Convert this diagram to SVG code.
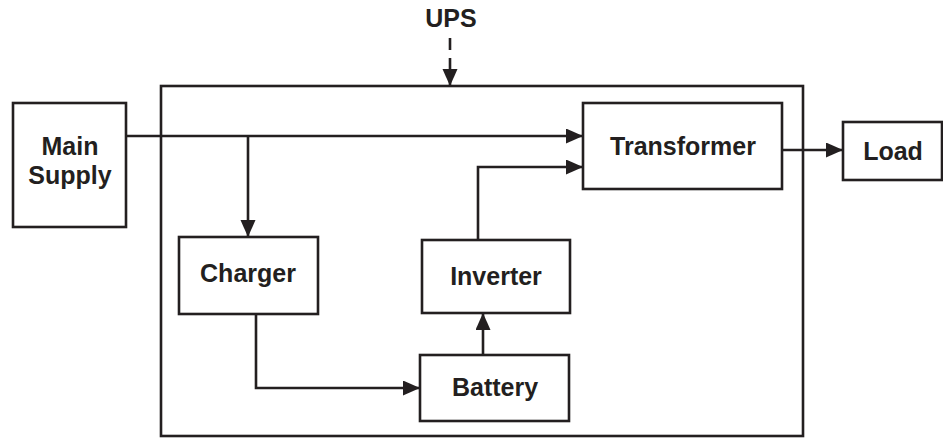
<svg xmlns="http://www.w3.org/2000/svg" width="943" height="439" viewBox="0 0 943 439">
<style>
.box{fill:#fff;stroke:#231f20;stroke-width:2.6}
.ln{fill:none;stroke:#231f20;stroke-width:2.6}
text{font-family:"Liberation Sans",Arial,sans-serif;font-weight:bold;font-size:25px;fill:#231f20;text-anchor:middle}
</style>
<defs>
<marker id="ah" markerUnits="userSpaceOnUse" markerWidth="18" markerHeight="16" refX="17" refY="7.5" orient="auto">
<path d="M0,0 L17,7.5 L0,15 Z" fill="#231f20"/>
</marker>
</defs>
<rect width="943" height="439" fill="#fff"/>
<g id="ups">
<rect class="box" x="161" y="86" width="642" height="350"/>
<text x="451" y="27">UPS</text>
</g>
<g id="main-supply">
<rect class="box" x="13" y="103" width="113" height="124"/>
<text x="70" y="155">Main</text>
<text x="70" y="184">Supply</text>
</g>
<g id="transformer">
<rect class="box" x="583" y="103" width="199" height="86"/>
<text x="683" y="155">Transformer</text>
</g>
<g id="load">
<rect class="box" x="843" y="122" width="99" height="58"/>
<text x="893" y="160">Load</text>
</g>
<g id="charger">
<rect class="box" x="179" y="237" width="139" height="77"/>
<text x="248" y="282">Charger</text>
</g>
<g id="inverter">
<rect class="box" x="422" y="240" width="148" height="73"/>
<text x="496" y="285">Inverter</text>
</g>
<g id="battery">
<rect class="box" x="420" y="355" width="149" height="66"/>
<text x="495" y="396">Battery</text>
</g>
<g id="connectors">
<line class="ln" x1="450" y1="38" x2="450" y2="86" stroke-dasharray="12 8" marker-end="url(#ah)"/>
<line class="ln" x1="126" y1="136" x2="583" y2="136" marker-end="url(#ah)"/>
<line class="ln" x1="248" y1="136" x2="248" y2="237" marker-end="url(#ah)"/>
<polyline class="ln" points="256,314 256,388 420,388" marker-end="url(#ah)"/>
<line class="ln" x1="483" y1="355" x2="483" y2="313" marker-end="url(#ah)"/>
<polyline class="ln" points="478,240 478,167 583,167" marker-end="url(#ah)"/>
<line class="ln" x1="782" y1="150" x2="843" y2="150" marker-end="url(#ah)"/>
</g>
</svg>
